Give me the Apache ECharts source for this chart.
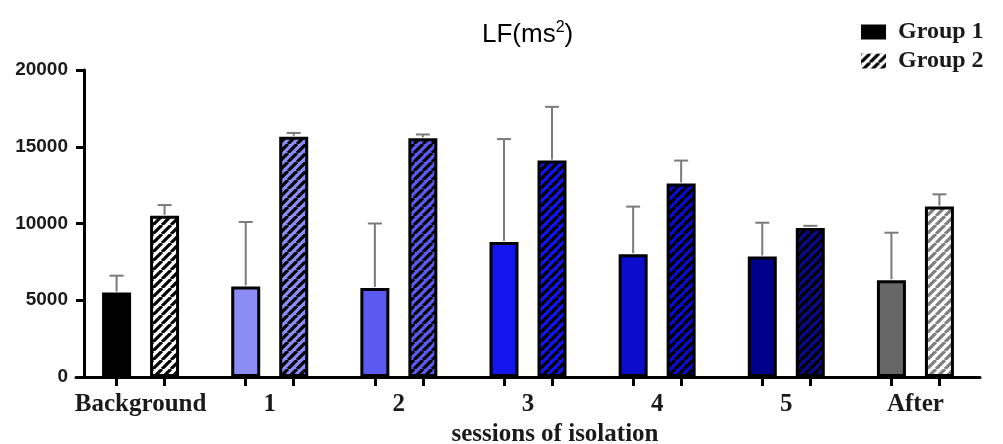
<!DOCTYPE html>
<html>
<head>
    <title>LF(ms2) by session</title>
    <meta charset="utf-8">
    <script src="https://cdn.jsdelivr.net/npm/echarts@6/dist/echarts.min.js"></script>
    <style>
        body { margin: 0; background: #fff; }
    </style>
</head>
<body>
    <div id="main" style="width: 1003px;height:444px;"></div>

    <script type="text/javascript">
        // values
        var categories = ['Background', '1', '2', '3', '4', '5', 'After'];
        var group1 = [5500, 5900, 5800, 8800, 8000, 7850, 6300];
        var group1Err = [1100, 4200, 4200, 6700, 3100, 2200, 3100];
        var group2 = [10500, 15650, 15550, 14100, 12600, 9700, 11100];
        var group2Err = [700, 250, 250, 3500, 1500, 150, 800];
        var yTicks = [0, 5000, 10000, 15000, 20000];

        // fill colours per session
        var fills = ['#000000', '#8c8cf5', '#5a5af0', '#1414ee', '#0c0ccc', '#00008a', '#666666'];
        var stripeBg = ['#ffffff', '#8c8cf5', '#5a5af0', '#1414ee', '#0c0ccc', '#0a0a8c', '#ffffff'];
        var stripeFg = ['#000000', '#000000', '#000000', '#000000', '#000000', '#000000', '#7f7f7f'];

        var barWidth = 29;
        var barGap = 0.655;
        var shift = barWidth * (1 + barGap) / 2;

        // diagonal stripe tile
        function stripes(bg, fg) {
            var s = 9;
            var c = document.createElement('canvas');
            c.width = s; c.height = s;
            var g = c.getContext('2d');
            g.fillStyle = bg;
            g.fillRect(0, 0, s, s);
            g.strokeStyle = fg;
            g.lineWidth = 3.2;
            g.beginPath();
            [-s, 0, s].forEach(function (k) {
                g.moveTo(k, s);
                g.lineTo(k + s, 0);
            });
            g.stroke();
            return { image: c, repeat: 'repeat' };
        }

        var myChart = echarts.init(document.getElementById('main'));

        var g1Data = group1.map(function (v, i) {
            return { value: v, itemStyle: { color: fills[i] } };
        });
        var g2Data = group2.map(function (v, i) {
            return { value: v, itemStyle: { color: stripes(stripeBg[i], stripeFg[i]) } };
        });

        // error bars: [category index, mean, sd]
        function errData(vals, errs) {
            return vals.map(function (v, i) { return [i, v, errs[i]]; });
        }

        function errRender(dx) {
            return function (params, api) {
                var ci = api.value(0), v = api.value(1), e = api.value(2);
                var p0 = api.coord([ci, v]);
                var p1 = api.coord([ci, v + e]);
                var x = p0[0] + dx;
                var st = { stroke: '#7a7a7a', lineWidth: 2 };
                return {
                    type: 'group',
                    children: [
                        { type: 'line', shape: { x1: x, y1: p0[1] - 1, x2: x, y2: p1[1] }, style: st },
                        { type: 'line', shape: { x1: x - 7, y1: p1[1], x2: x + 7, y2: p1[1] }, style: st }
                    ]
                };
            };
        }

        // one tick under every bar
        var bandFrac = shift / (904 / categories.length);
        var tickVals = [];
        categories.forEach(function (c, i) {
            tickVals.push(i + 0.5 - bandFrac, i + 0.5 + bandFrac);
        });

        var serif = '"Liberation Serif", "Times New Roman", serif';
        var sans = '"Liberation Sans", Arial, sans-serif';

        var option = {
            animation: false,
            title: {
                text: '{a|LF(ms}{b|2}{a|)}',
                left: 477,
                top: 15,
                textStyle: {
                    rich: {
                        a: { fontFamily: sans, fontWeight: 'normal', fontSize: 26, color: '#000', lineHeight: 30 },
                        b: { fontFamily: sans, fontWeight: 'normal', fontSize: 16, color: '#000', verticalAlign: 'top', lineHeight: 30 }
                    }
                }
            },
            legend: {
                orient: 'vertical',
                left: 856,
                top: 15,
                icon: 'rect',
                itemWidth: 25,
                itemHeight: 15,
                itemGap: 5,
                itemStyle: { borderWidth: 0 },
                textStyle: {
                    fontFamily: serif, fontWeight: 'bold', fontSize: 24, color: '#1a1a1a',
                    padding: [0, 0, 0, 7]
                },
                data: ['Group 1', 'Group 2']
            },
            grid: {
                left: 76,
                right: 23,
                top: 70,
                bottom: 67,
                outerBoundsMode: 'none'
            },
            xAxis: [{
                type: 'category',
                data: categories,
                axisLine: { lineStyle: { color: '#000', width: 3 } },
                axisTick: { show: false },
                axisLabel: {
                    interval: 0,
                    margin: 15,
                    fontFamily: serif,
                    fontWeight: 'bold',
                    fontSize: 25,
                    color: '#1a1a1a'
                },
                name: 'sessions of isolation',
                nameLocation: 'middle',
                nameGap: 42,
                nameTextStyle: {
                    fontFamily: serif,
                    fontWeight: 'bold',
                    fontSize: 25,
                    color: '#1a1a1a',
                    padding: [0, 0, 0, 54]
                }
            }, {
                type: 'value',
                min: 0,
                max: categories.length,
                position: 'bottom',
                axisLine: { show: false },
                splitLine: { show: false },
                axisLabel: { show: false },
                axisTick: {
                    show: true,
                    length: 9,
                    customValues: tickVals,
                    lineStyle: { color: '#000', width: 3 }
                }
            }],
            yAxis: {
                type: 'value',
                min: yTicks[0],
                max: yTicks[yTicks.length - 1],
                interval: 5000,
                offset: -8,
                axisLine: { show: true, lineStyle: { color: '#000', width: 3 } },
                axisTick: { show: true, length: 8, lineStyle: { color: '#000', width: 3 } },
                splitLine: { show: false },
                axisLabel: {
                    margin: 16,
                    formatter: function (v) { return String(v); },
                    fontFamily: sans,
                    fontWeight: 'bold',
                    fontSize: 19,
                    color: '#1a1a1a'
                }
            },
            series: [{
                name: 'Group 1',
                type: 'bar',
                barWidth: barWidth,
                barGap: (barGap * 100) + '%',
                itemStyle: { color: '#000', borderColor: '#000', borderWidth: 3 },
                data: g1Data
            }, {
                name: 'Group 2',
                type: 'bar',
                barWidth: barWidth,
                itemStyle: { color: stripes('#ffffff', '#000000'), borderColor: '#000', borderWidth: 3 },
                data: g2Data
            }, {
                type: 'custom',
                renderItem: errRender(-shift),
                data: errData(group1, group1Err),
                z: 3,
                silent: true
            }, {
                type: 'custom',
                renderItem: errRender(shift),
                data: errData(group2, group2Err),
                z: 3,
                silent: true
            }]
        };

        myChart.setOption(option);
    </script>
</body>
</html>
